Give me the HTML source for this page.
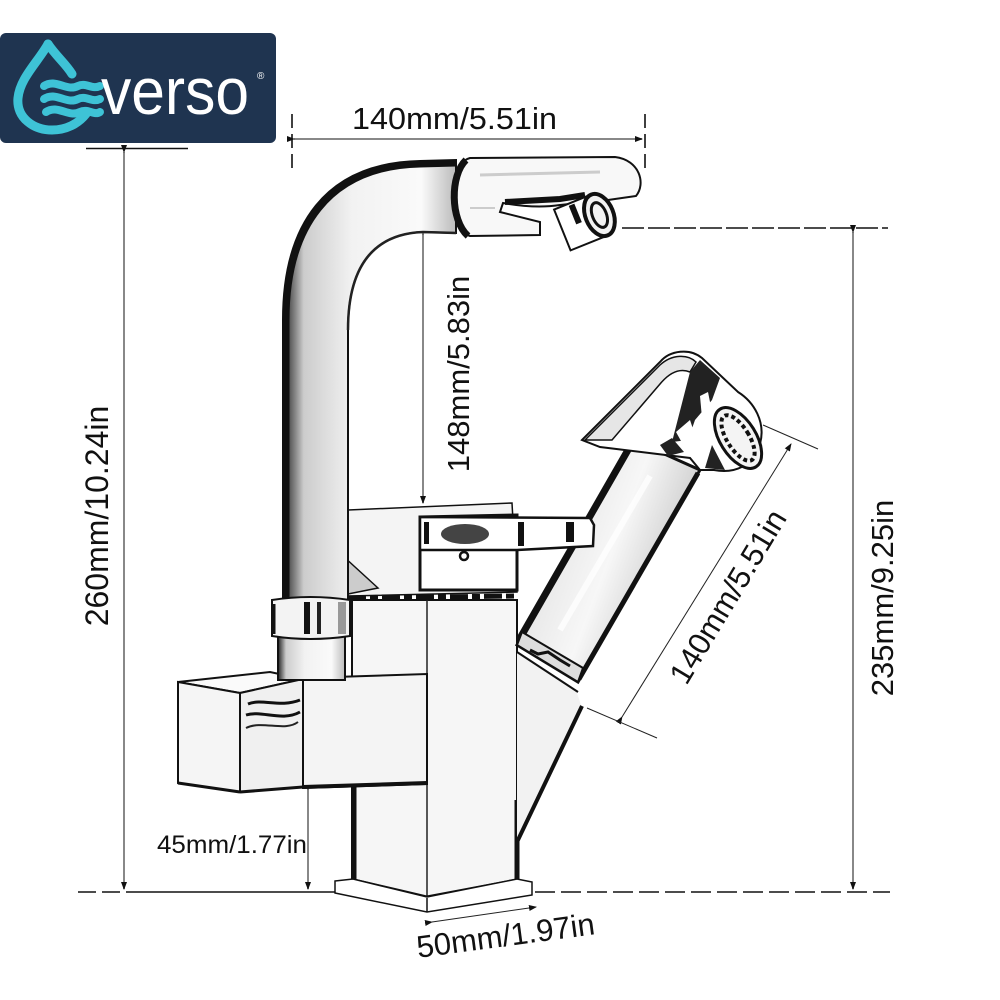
<!DOCTYPE html>
<html><head><meta charset="utf-8">
<style>
html,body{margin:0;padding:0;background:#fff;}
svg{display:block;}
text{font-family:"Liberation Sans",Arial,sans-serif;fill:#111;}
</style></head>
<body>
<svg width="1000" height="1000" viewBox="0 0 1000 1000" xmlns="http://www.w3.org/2000/svg">
<defs>
  <linearGradient id="tubeG" x1="0" y1="0" x2="1" y2="0">
    <stop offset="0" stop-color="#222"/>
    <stop offset="0.12" stop-color="#ccc"/>
    <stop offset="0.4" stop-color="#f2f2f2"/>
    <stop offset="0.8" stop-color="#fafafa"/>
    <stop offset="1" stop-color="#bbb"/>
  </linearGradient>
  <linearGradient id="sprG" x1="0" y1="0" x2="1" y2="0.5">
    <stop offset="0" stop-color="#111"/>
    <stop offset="0.15" stop-color="#ddd"/>
    <stop offset="0.6" stop-color="#f7f7f7"/>
    <stop offset="0.9" stop-color="#ccc"/>
    <stop offset="1" stop-color="#111"/>
  </linearGradient>
  <marker id="ah" markerWidth="8" markerHeight="8" refX="7" refY="4" orient="auto" markerUnits="userSpaceOnUse">
    <path d="M0,1 L8,4 L0,7 Z" fill="#111"/>
  </marker>
</defs>

<!-- Logo -->
<rect x="0" y="33" width="276" height="110" rx="6" fill="#1f3450"/>
<g fill="none" stroke="#3ec3d6" stroke-linecap="round">
  <path d="M48,44 C38,62 20,78 18,98 C16,118 34,130 52,130 C66,130 78,124 86,114" stroke-width="9"/>
  <path d="M48,44 C56,56 66,64 72,74" stroke-width="9"/>
  <path d="M44,86 C56,78 66,92 78,86 C86,82 92,90 100,86" stroke-width="8"/>
  <path d="M44,99 C56,91 66,105 78,99 C86,95 92,103 100,99" stroke-width="8"/>
  <path d="M46,112 C58,104 68,118 80,112 C88,108 94,116 100,112" stroke-width="8"/>
</g>
<text x="101" y="114" font-size="66" textLength="148" lengthAdjust="spacingAndGlyphs" style="fill:#fff">verso</text>
<text x="257" y="79" font-size="10" style="fill:#fff">®</text>
<line x1="86" y1="148.5" x2="188" y2="148.5" stroke="#111" stroke-width="1.5"/>

<!-- ===== Dimension lines ===== -->
<g stroke="#888" stroke-width="2" fill="none">
  <line x1="294" y1="139" x2="642" y2="139" marker-start="url(#ah)" marker-end="url(#ah)"/>
  <line x1="124" y1="152" x2="124" y2="889" marker-start="url(#ah)" marker-end="url(#ah)"/>
  <line x1="853" y1="232" x2="853" y2="889" marker-start="url(#ah)" marker-end="url(#ah)"/>
  <line x1="423" y1="234" x2="423" y2="503" marker-start="url(#ah)" marker-end="url(#ah)"/>
  <line x1="308" y1="789" x2="308" y2="889" marker-start="url(#ah)" marker-end="url(#ah)"/>
</g>
<g stroke="#222" stroke-width="1" fill="none">
  <line x1="622" y1="717" x2="791" y2="444" marker-start="url(#ah)" marker-end="url(#ah)"/>
  <line x1="763" y1="425" x2="818" y2="449"/>
  <line x1="587" y1="708" x2="657" y2="738"/>
  <line x1="432" y1="922" x2="536" y2="907" marker-start="url(#ah)" marker-end="url(#ah)"/>
</g>
<g stroke="#111" stroke-width="1.6" fill="none">
  <line x1="292" y1="114" x2="292" y2="174" stroke-dasharray="14,6"/>
  <line x1="645" y1="114" x2="645" y2="168" stroke-dasharray="14,6"/>
  <line x1="622" y1="228" x2="888" y2="228" stroke-dasharray="22,4"/>
  <line x1="78" y1="892" x2="130" y2="892" stroke-dasharray="18,6"/>
  <line x1="130" y1="892" x2="336" y2="892"/>
  <line x1="535" y1="892" x2="890" y2="892" stroke-dasharray="20,6"/>
</g>

<!-- ===== Faucet drawing ===== -->
<polygon points="352,600 517,600 517,881 427,898 352,881" fill="#f6f6f6" stroke="#111" stroke-width="2"/>
<line x1="427" y1="600" x2="427" y2="898" stroke="#222" stroke-width="1.5"/>
<polyline points="354,785 354,881 427,898 517,881 517,800" fill="none" stroke="#111" stroke-width="5"/>
<polygon points="335,881 353,879 427,897 517,879 532,882 532,895 427,912 335,893" fill="#fff" stroke="#111" stroke-width="1.5"/>
<line x1="427" y1="898" x2="427" y2="912" stroke="#111" stroke-width="1.5"/>

<!-- hose holder -->
<polygon points="517,652 576,690 582,708 517,842" fill="#f2f2f2" stroke="none"/>
<line x1="582" y1="706" x2="517" y2="842" stroke="#111" stroke-width="4"/>
<line x1="517" y1="652" x2="578" y2="692" stroke="#111" stroke-width="2"/>

<!-- sprayer tube -->
<polygon points="517,645 633,440 700,470 578,682" fill="url(#sprG)" stroke="#111" stroke-width="3"/>
<line x1="519" y1="640" x2="632" y2="443" stroke="#111" stroke-width="7"/>
<line x1="579" y1="679" x2="698" y2="473" stroke="#111" stroke-width="5"/>
<line x1="560" y1="630" x2="650" y2="476" stroke="#fff" stroke-width="6" opacity="0.8"/>
<path d="M517,645 L578,682 L583,668 L522,632 Z" fill="#ddd" stroke="#111" stroke-width="2"/>
<path d="M530,650 l8,4 l10,-2 l12,8 l10,6" stroke="#111" stroke-width="3" fill="none"/>

<!-- sprayer head -->
<path d="M582,440 L660,362 C670,350 690,348 702,358 L738,392 C754,402 766,422 760,444 C754,466 734,474 714,470 L700,470 L690,458 L600,447 Z" fill="#fff" stroke="#111" stroke-width="2"/>
<path d="M585,440 L660,365 C672,354 688,354 696,362 L690,372 C680,368 670,372 660,384 L612,440 Z" fill="#e6e6e6" stroke="#111" stroke-width="1.5"/>
<path d="M690,372 L700,360 L720,378 L712,400 L695,420 L688,440 L672,442 Z" fill="#222"/>
<path d="M700,396 L708,392 L712,412 L702,418 Z" fill="#fff"/>
<path d="M676,432 L690,420 L698,444 L686,450 Z" fill="#fff"/>
<path d="M660,445 L672,438 L684,452 L668,456 Z" fill="#222"/>
<ellipse cx="738" cy="438" rx="18" ry="34" transform="rotate(-32 738 438)" fill="#f4f4f4" stroke="#111" stroke-width="3"/>
<ellipse cx="738" cy="438" rx="11" ry="26" transform="rotate(-32 738 438)" fill="none" stroke="#111" stroke-width="4" stroke-dasharray="4,3"/>
<path d="M705,468 L725,470 L712,445 Z" fill="#222"/>

<!-- middle box -->
<polygon points="303,678 427,674 427,784 303,788" fill="#f4f4f4" stroke="#111" stroke-width="2"/>
<line x1="303" y1="787" x2="427" y2="783" stroke="#111" stroke-width="4"/>
<!-- left handle box -->
<polygon points="178,682 270,672 303,679 240,693" fill="#fafafa" stroke="#111" stroke-width="2"/>
<polygon points="178,682 240,693 240,792 178,783" fill="#f5f5f5" stroke="#111" stroke-width="2"/>
<polygon points="240,693 303,679 303,787 240,792" fill="#f0f0f0" stroke="#111" stroke-width="2"/>
<path d="M248,704 C262,698 280,708 300,700" stroke="#111" stroke-width="3" fill="none"/>
<path d="M246,715 C262,710 282,722 300,712" stroke="#111" stroke-width="3" fill="none"/>
<path d="M246,728 C262,720 285,732 298,722" stroke="#222" stroke-width="2" fill="none"/>
<line x1="178" y1="783" x2="240" y2="792" stroke="#111" stroke-width="3"/>
<line x1="240" y1="792" x2="303" y2="787" stroke="#111" stroke-width="3"/>

<!-- tube below ring -->
<rect x="278" y="636" width="67" height="44" fill="url(#tubeG)" stroke="#111" stroke-width="2"/>

<!-- upper valve block -->
<polygon points="348,510 512,503 517,592 348,596" fill="#f4f4f4" stroke="#111" stroke-width="1.5"/>
<path d="M343,556 L378,588 L348,594 Z" fill="#ccc" stroke="#111" stroke-width="1.5"/>
<polygon points="420,517 517,515 517,590 420,590" fill="#fff" stroke="#111" stroke-width="3"/>
<polygon points="420,517 590,518 594,525 593,546 517,550 420,550" fill="#fff" stroke="#111" stroke-width="2.5"/>
<ellipse cx="465" cy="534" rx="24" ry="10" fill="#444"/>
<rect x="424" y="522" width="5" height="22" fill="#111"/>
<rect x="566" y="522" width="8" height="20" fill="#111"/>
<rect x="518" y="522" width="6" height="24" fill="#111"/>
<circle cx="464" cy="556" r="4" fill="none" stroke="#111" stroke-width="2.5"/>
<path d="M348,598 L517,596" stroke="#111" stroke-width="5" stroke-dasharray="18,4,8,4"/>

<!-- gooseneck tube -->
<path d="M283,600 L283,320 C283,225 325,163 420,161 L456,160 L456,233 L423,232 C372,234 348,268 348,330 L348,600 Z" fill="url(#tubeG)" stroke="#111" stroke-width="2"/>
<path d="M286,600 L286,320 C286,228 328,166 420,164 L456,163" fill="none" stroke="#111" stroke-width="7"/>
<path d="M348,330 C348,268 372,234 423,232 L456,233" fill="none" stroke="#222" stroke-width="2.5"/>
<!-- ring -->
<path d="M272,600 Q310,594 350,600 L350,636 Q310,642 272,636 Z" fill="#f3f3f3" stroke="#111" stroke-width="2"/>
<rect x="304" y="602" width="6" height="32" fill="#111"/>
<rect x="317" y="602" width="4" height="32" fill="#222"/>
<rect x="338" y="602" width="8" height="32" fill="#999"/>
<line x1="274" y1="604" x2="274" y2="634" stroke="#111" stroke-width="3"/>

<!-- spout head -->
<path d="M470,158 L615,157 C640,160 646,184 636,196 L608,200 L560,205 C540,208 520,206 503,203 L500,212 L540,222 L540,235 L470,236 C455,232 452,200 455,185 C456,168 462,160 470,158 Z" fill="#f8f8f8" stroke="#111" stroke-width="2"/>
<line x1="480" y1="175" x2="600" y2="172" stroke="#ccc" stroke-width="3"/>
<line x1="470" y1="208" x2="495" y2="208" stroke="#ccc" stroke-width="2"/>
<path d="M466,160 C450,175 450,220 468,236" fill="none" stroke="#111" stroke-width="7"/>
<path d="M505,202 L560,199 L585,195" stroke="#111" stroke-width="6" fill="none"/>
<g transform="rotate(-22 592 218)">
  <rect x="560" y="196" width="40" height="44" fill="#fff" stroke="#111" stroke-width="2"/>
  <rect x="575" y="198" width="6" height="20" fill="#111"/>
  <ellipse cx="600" cy="218" rx="14" ry="22" fill="#f2f2f2" stroke="#111" stroke-width="4"/>
  <ellipse cx="600" cy="218" rx="7" ry="13" fill="none" stroke="#111" stroke-width="3"/>
</g>

<!-- ===== Labels ===== -->
<text x="352" y="129" font-size="31" textLength="205" lengthAdjust="spacingAndGlyphs">140mm/5.51in</text>
<text transform="translate(108,516) rotate(-90)" font-size="32" text-anchor="middle">260mm/10.24in</text>
<text transform="translate(469,374) rotate(-90)" font-size="31" text-anchor="middle">148mm/5.83in</text>
<text transform="translate(893,598) rotate(-90)" font-size="31" text-anchor="middle">235mm/9.25in</text>
<text transform="translate(737,602) rotate(-59)" font-size="31" text-anchor="middle">140mm/5.51in</text>
<text x="157" y="853" font-size="25" textLength="150" lengthAdjust="spacingAndGlyphs">45mm/1.77in</text>
<text transform="translate(507,946) rotate(-7.6)" font-size="31" text-anchor="middle">50mm/1.97in</text>
</svg>
</body></html>
